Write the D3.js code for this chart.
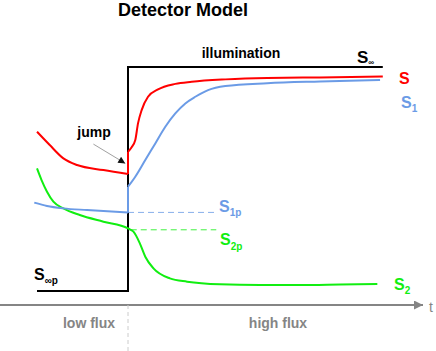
<!DOCTYPE html>
<html>
<head>
<meta charset="utf-8">
<script src="https://cdn.jsdelivr.net/npm/d3@7"></script>
<style>
  body { margin: 0; background: #fff; }
  text { font-family: "Liberation Sans", Arial, sans-serif; font-weight: bold; }
</style>
</head>
<body>
<svg width="436" height="351"></svg>
<script>
'use strict';
// time in arbitrary units (step at t = 0), signal in % of S_inf
const illumination = [[-1, 5.9], [0, 5.9], [0, 100], [2.8, 100]];
const sLow = [[-1.0, 72.8], [-0.86, 67.2], [-0.71, 61.6], [-0.56, 58.8], [-0.27, 56.7], [0, 55.0]];
const sHigh = [[0, 64.4], [0.04, 66.3], [0.08, 69.3], [0.11, 76.3], [0.15, 81.9], [0.22, 87.5],
  [0.33, 90.6], [0.52, 92.9], [0.70, 93.8], [1.07, 94.8], [1.53, 95.4], [2.11, 95.6], [2.80, 96.0]];
const s1Low = [[-1.03, 43.0], [-0.89, 41.6], [-0.71, 40.6], [-0.45, 39.9], [0, 38.9]];
const s1High = [[0, 49.7], [0.08, 53.9], [0.19, 60.9], [0.30, 67.9], [0.41, 74.9], [0.52, 80.5],
  [0.63, 84.7], [0.74, 87.5], [0.88, 90.3], [1.07, 92.0], [1.53, 93.2], [2.11, 93.9], [2.77, 94.5]];
const s2 = [[-1.0, 57.4], [-0.95, 52.5], [-0.89, 47.6], [-0.82, 43.4], [-0.71, 40.6], [-0.53, 37.8],
  [-0.27, 35.0], [0, 32.2], [0.02, 31.8], [0.06, 30.8], [0.13, 25.9], [0.19, 20.3], [0.28, 15.4],
  [0.46, 11.2], [0.65, 9.8], [1.01, 8.7], [1.45, 8.4], [1.89, 8.4], [2.33, 8.6], [2.74, 8.8]];
const s1p = 38.9, s2p = 31.6;
const s1pSpan = [0, 0.95], s2pSpan = [0.03, 0.97];

const svg = d3.select('svg');
const x = d3.scaleLinear().domain([-1, 2.8]).range([37, 382.8]);
const y = d3.scaleLinear().domain([0, 100]).range([305, 67]);

const RED = '#ff0000', BLUE = '#6b9be6', GREEN = '#11ee11', GREY = '#858585';

const smooth = d3.line().x(d => x(d[0])).y(d => y(d[1])).curve(d3.curveMonotoneX);
const straight = d3.line().x(d => x(d[0])).y(d => y(d[1]));

svg.append('defs').append('marker')
  .attr('id', 'ax').attr('viewBox', '0 0 10 10').attr('refX', 10).attr('refY', 5)
  .attr('markerWidth', 6).attr('markerHeight', 4.5).attr('markerUnits', 'strokeWidth')
  .attr('orient', 'auto')
  .append('path').attr('d', 'M0,0L10,5L0,10z').attr('fill', GREY);
svg.select('defs').append('marker')
  .attr('id', 'jm').attr('viewBox', '0 0 10 10').attr('refX', 10).attr('refY', 5)
  .attr('markerWidth', 8).attr('markerHeight', 7).attr('markerUnits', 'userSpaceOnUse')
  .attr('orient', 'auto')
  .append('path').attr('d', 'M0,0L10,5L0,10z').attr('fill', '#111');

// time axis
const tAxis = [x.invert(0), x.invert(423)];
svg.append('line')
  .attr('x1', x(tAxis[0])).attr('x2', x(tAxis[1]))
  .attr('y1', y(0)).attr('y2', y(0))
  .attr('stroke', GREY).attr('stroke-width', 2).attr('marker-end', 'url(#ax)');
svg.append('line')
  .attr('x1', x(0)).attr('x2', x(0)).attr('y1', y(0)).attr('y2', 351)
  .attr('stroke', '#ccc').attr('stroke-width', 1).attr('stroke-dasharray', '4,3');

// illumination step
svg.append('path').attr('d', straight(illumination))
  .attr('fill', 'none').attr('stroke', '#000').attr('stroke-width', 2);

// plateau guides
[[s1p, s1pSpan, BLUE], [s2p, s2pSpan, GREEN]].forEach(([v, span, c]) => {
  svg.append('line')
    .attr('x1', x(span[0])).attr('x2', x(span[1])).attr('y1', y(v)).attr('y2', y(v))
    .attr('stroke', c).attr('stroke-width', 1).attr('stroke-dasharray', '6,4').attr('opacity', 0.8);
});

function curve(data, color) {
  svg.append('path').attr('d', smooth(data))
    .attr('fill', 'none').attr('stroke', color).attr('stroke-width', 2);
}
function jump(a, b, color) {
  svg.append('path').attr('d', straight([a[a.length - 1], b[0]]))
    .attr('fill', 'none').attr('stroke', color).attr('stroke-width', 2);
}
curve(s2, GREEN);
curve(s1Low, BLUE); jump(s1Low, s1High, BLUE); curve(s1High, BLUE);
curve(sLow, RED); jump(sLow, sHigh, RED); curve(sHigh, RED);

// jump arrow
svg.append('line')
  .attr('x1', x(-0.38)).attr('y1', y(67.6)).attr('x2', x(-0.03)).attr('y2', y(59.5))
  .attr('stroke', '#888').attr('stroke-width', 0.8).attr('marker-end', 'url(#jm)');

// texts
function label(px, py, main, sub, color, size, subSize, dy) {
  const t = svg.append('text').attr('x', px).attr('y', py)
    .attr('fill', color).style('font-size', size + 'px').text(main);
  if (sub) {
    t.append('tspan').attr('dy', dy).style('font-size', subSize + 'px').text(sub);
  }
  return t;
}
svg.append('text').attr('x', 183).attr('y', 16).attr('text-anchor', 'middle')
  .style('font-size', '18px').text('Detector Model');
svg.append('text').attr('x', 241).attr('y', 58).attr('text-anchor', 'middle')
  .style('font-size', '14px').text('illumination');
svg.append('text').attr('x', 94).attr('y', 137).attr('text-anchor', 'middle')
  .style('font-size', '14px').text('jump');
label(357, 63, 'S', '\u221e', '#000', 17, 8, 2);
label(399, 84, 'S', null, RED, 16);
label(401, 108, 'S', '1', BLUE, 16, 10, 4);
label(219, 212, 'S', '1p', BLUE, 16, 10, 4);
label(220, 245, 'S', '2p', GREEN, 16, 10, 5);
label(394, 290, 'S', '2', GREEN, 16, 10, 4);
label(34, 280, 'S', '\u221ep', '#000', 16, 10, 4);
svg.append('text').attr('x', 89).attr('y', 328).attr('text-anchor', 'middle')
  .attr('fill', GREY).style('font-size', '14px').text('low flux');
svg.append('text').attr('x', 278).attr('y', 328).attr('text-anchor', 'middle')
  .attr('fill', GREY).style('font-size', '14px').text('high flux');
svg.append('text').attr('x', 429).attr('y', 312)
  .attr('fill', GREY).style('font-size', '14px').style('font-weight', 'normal').text('t');
</script>
</body>
</html>
